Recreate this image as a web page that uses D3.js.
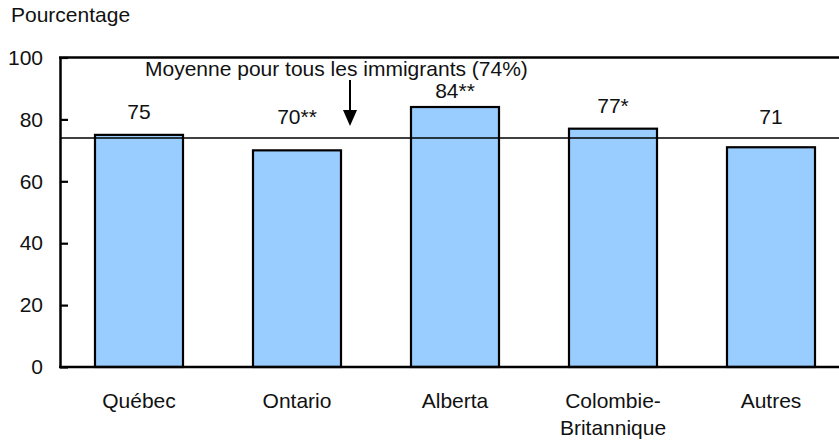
<!DOCTYPE html>
<html lang="fr">
<head>
    <meta charset="UTF-8">
    <title>Pourcentage par province</title>
    <script src="https://d3js.org/d3.v7.min.js"></script>
    <style>
        body {margin: 0; background: white;}
        text {
            font-family: "Liberation Sans", Arial, sans-serif;
            font-size: 21px;
            fill: #111;
        }
    </style>
</head>
<body>
<script>
    const width = 839;
    const height = 442;

    // data
    const categories  = [["Québec"], ["Ontario"], ["Alberta"], ["Colombie-", "Britannique"], ["Autres"]];
    const values      = [75, 70, 84, 77, 71];
    const valueLabels = ["75", "70**", "84**", "77*", "71"];
    const yTicks      = [0, 20, 40, 60, 80, 100];
    const average     = 74;
    const averageText = "Moyenne pour tous les immigrants (74%)";

    const svg = d3.select("body").append("svg")
            .attr("width", width).attr("height", height);

    const x = d3.scaleBand()
            .domain(d3.range(categories.length))
            .range([60, 850])
            .paddingInner(0.443)
            .paddingOuter(0.2215);

    const y = d3.scaleLinear()
            .domain([0, 100])
            .range([367, 57.5]);

    const noteY = 76;   // baseline of the average annotation

    // y title
    svg.append("text")
            .attr("x", 11).attr("y", 22)
            .text("Pourcentage");

    // bars
    svg.selectAll("rect.bar")
            .data(values)
            .enter()
            .append("rect")
            .attr("class", "bar")
            .attr("x", (d, i) => x(i))
            .attr("y", d => y(d))
            .attr("width", x.bandwidth())
            .attr("height", d => y(0) - y(d))
            .style("fill", "#99ccff")
            .style("stroke", "black")
            .style("stroke-width", 2.2);

    // average line
    svg.append("line")
            .attr("x1", x.range()[0]).attr("x2", x.range()[1])
            .attr("y1", y(average)).attr("y2", y(average))
            .style("stroke", "black")
            .style("stroke-width", 1.4);

    // value labels: above the bar, above the average line, below the note
    svg.selectAll("text.value")
            .data(values)
            .enter()
            .append("text")
            .attr("class", "value")
            .attr("x", (d, i) => x(i) + x.bandwidth() / 2)
            .attr("y", d => Math.max(noteY + 22, Math.min(y(d) - 16, y(average) - 14)))
            .attr("text-anchor", "middle")
            .text((d, i) => valueLabels[i]);

    // frame: top border
    svg.append("line")
            .attr("x1", 59).attr("x2", width)
            .attr("y1", y(100)).attr("y2", y(100))
            .style("stroke", "black")
            .style("stroke-width", 2.5);

    // bottom axis
    svg.append("line")
            .attr("x1", 59).attr("x2", width)
            .attr("y1", y(0)).attr("y2", y(0))
            .style("stroke", "black")
            .style("stroke-width", 2.5);

    // left axis, ticks pointing inward
    const yAxis = svg.append("g")
            .attr("transform", "translate(60,0)")
            .call(d3.axisLeft(y).tickValues(yTicks).tickSizeInner(-8).tickSizeOuter(0).tickPadding(17));
    yAxis.select(".domain").style("stroke-width", 2.5);
    yAxis.selectAll(".tick line").style("stroke-width", 2.2);
    yAxis.selectAll(".tick text")
            .style("font-size", "21px")
            .style("font-family", '"Liberation Sans", Arial, sans-serif')
            .style("fill", "#111");

    // category labels
    svg.selectAll("text.cat")
            .data(categories)
            .enter()
            .append("text")
            .attr("class", "cat")
            .attr("text-anchor", "middle")
            .attr("transform", (d, i) => `translate(${x(i) + x.bandwidth() / 2},408)`)
            .each(function(d) {
                d3.select(this).selectAll("tspan")
                        .data(d)
                        .enter()
                        .append("tspan")
                        .attr("x", 0)
                        .attr("dy", (t, j) => j ? 27 : 0)
                        .text(t => t);
            });

    // average annotation with arrow
    svg.append("text")
            .attr("x", 145).attr("y", noteY)
            .text(averageText);

    const ax = 350;
    svg.append("line")
            .attr("x1", ax).attr("x2", ax)
            .attr("y1", 80).attr("y2", 112)
            .style("stroke", "black")
            .style("stroke-width", 2);
    svg.append("path")
            .attr("d", `M${ax - 7},110 L${ax + 7},110 L${ax},126 Z`)
            .style("fill", "black");
</script>
</body>
</html>
